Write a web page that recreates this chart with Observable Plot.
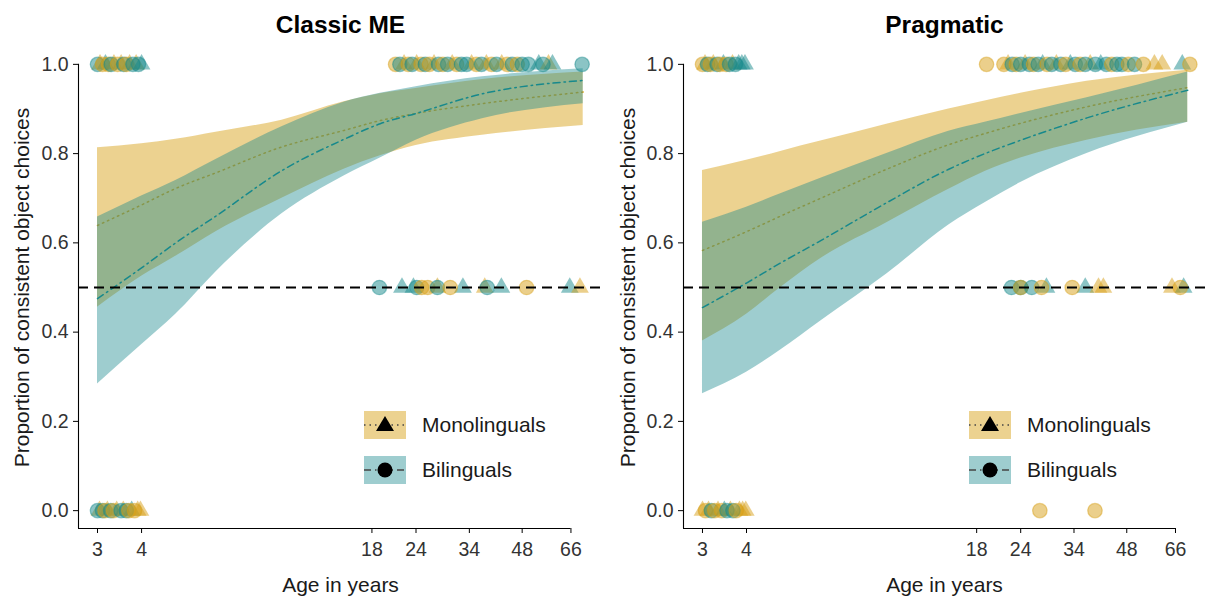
<!DOCTYPE html>
<html><head><meta charset="utf-8">
<script src="https://cdn.jsdelivr.net/npm/d3@7"></script>
<script src="https://cdn.jsdelivr.net/npm/@observablehq/plot@0.6"></script>
<style>
body{margin:0;background:#fff;}
#wrap{display:flex;width:1206px;height:599px;}
.panel{position:relative;width:603px;height:599px;}
.panel svg{display:block;}
</style></head><body><div id="wrap"></div>
<script>
// ---- data ----
const xTicks = [3, 4, 18, 24, 34, 48, 66];
const yTicks = [0, 0.2, 0.4, 0.6, 0.8, 1.0];
const chance = 0.5;
const groups = ["Monolinguals", "Bilinguals"];
const ageGrid = [3, 4, 5, 6.5, 10, 15, 19, 24, 37, 71.5];

const classicMonoFit  = [0.639, 0.685, 0.722, 0.757, 0.815, 0.852, 0.874, 0.890, 0.912, 0.938];
const classicMonoLow  = [0.456, 0.525, 0.570, 0.625, 0.700, 0.765, 0.795, 0.818, 0.841, 0.863];
const classicMonoHigh = [0.813, 0.822, 0.832, 0.848, 0.875, 0.916, 0.934, 0.946, 0.966, 0.983];
const classicBiFit    = [0.475, 0.544, 0.600, 0.660, 0.762, 0.832, 0.867, 0.890, 0.934, 0.964];
const classicBiLow    = [0.284, 0.372, 0.440, 0.535, 0.665, 0.750, 0.790, 0.830, 0.878, 0.912];
const classicBiHigh   = [0.658, 0.705, 0.740, 0.787, 0.860, 0.915, 0.935, 0.950, 0.972, 0.990];

const pragMonoFit  = [0.583, 0.625, 0.660, 0.700, 0.765, 0.820, 0.845, 0.868, 0.905, 0.948];
const pragMonoLow  = [0.380, 0.440, 0.500, 0.565, 0.645, 0.720, 0.760, 0.790, 0.830, 0.870];
const pragMonoHigh = [0.762, 0.785, 0.805, 0.828, 0.866, 0.900, 0.918, 0.935, 0.962, 0.987];
const pragBiFit    = [0.455, 0.510, 0.555, 0.605, 0.690, 0.765, 0.800, 0.830, 0.880, 0.942];
const pragBiLow    = [0.262, 0.310, 0.360, 0.425, 0.530, 0.640, 0.690, 0.735, 0.800, 0.870];
const pragBiHigh   = [0.646, 0.680, 0.710, 0.745, 0.800, 0.850, 0.870, 0.890, 0.925, 0.983];

// point kinds: first letter g = gold, t = teal; second letter c = circle, t = triangle
const classicAgesAt1 = [3.0,3.05,3.1,3.16,3.22,3.28,3.34,3.42,3.5,3.56,3.62,3.7,3.78,3.86,3.92,4.0,
  21.0,21.6,22.2,22.8,23.4,24.1,24.8,25.5,26.2,27.0,27.8,28.6,29.5,30.4,31.3,32.3,33.4,34.5,35.6,36.8,38.0,39.3,40.6,42.0,43.5,45.0,46.5,48.0,50.0,53.5,55.0,57.0,58.5,71.0];
const classicKindsAt1 = ["tc","gt","gc","tt","gc","tc","gt","gc","gt","tc","gc","gt","tc","gt","tc","tt",
  "gc","tc","gt","gc","tc","gt","gc","tc","gc","gt","tc","gc","tc","gt","gc","tc","tc","gt","gc","tc","gt","gc","tc","gt","gc","tc","gc","tc","tc","tt","tc","gt","tt","tc"];
const classicAgesAtHalf = [18.9,21.9,23.6,24.1,24.9,25.9,27.6,27.6,30.0,32.6,37.6,38.2,41.9,49.4,65.5,70.0];
const classicKindsAtHalf = ["tc","tt","tt","tc","gc","gc","gt","tc","gc","tt","gt","tc","tt","gc","tt","gt"];
const classicAgesAt0 = [3.0,3.04,3.1,3.15,3.2,3.27,3.33,3.4,3.5,3.55,3.62,3.68,3.75,3.82,3.9,3.97];
const classicKindsAt0 = ["tc","gt","tc","gc","gt","tc","gc","gt","tc","gt","tc","gc","tt","gc","gt","gt"];

const pragAgesAt1 = [3.0,3.05,3.1,3.16,3.22,3.3,3.36,3.44,3.5,3.58,3.65,3.72,3.8,3.88,3.96,
  19.2,21.5,22.1,22.7,23.3,24.0,24.7,25.4,26.1,26.9,27.7,28.5,29.4,30.3,31.2,32.2,33.2,34.3,35.4,36.6,37.8,39.1,40.5,42.0,43.5,45.0,46.5,48.5,50.5,53.5,57.5,60.5,69.0,72.5];
const pragKindsAt1 = ["gc","gt","tc","gc","gt","tc","gc","tt","gc","tc","gt","tc","tt","tt","tt",
  "gc","gc","gt","tc","gc","tc","gt","tc","gc","tc","tt","gc","tc","gt","tc","gc","tt","tc","gc","tc","gt","tc","tt","tc","gc","tc","tc","gc","tc","gc","gt","gt","tt","gc"];
const pragAgesAtHalf = [22.6,24.0,24.0,25.8,27.5,28.4,33.6,36.6,39.9,41.2,64.5,68.1,69.6];
const pragKindsAtHalf = ["tc","tc","gc","tc","gc","tt","gc","tt","gt","gt","gt","gc","tt"];
const pragAgesAt0 = [3.0,3.06,3.12,3.18,3.25,3.32,3.4,3.46,3.52,3.6,3.66,3.74,3.82,3.9,3.98,27.2,39.0];
const pragKindsAt0 = ["gt","gc","gt","tc","gc","gt","gc","tt","tc","gt","tc","gc","gt","gt","gt","gc","gc"];

// ---- styling ----
const GOLD = "#D8A017", TEAL = "#17898C";
const FONT = "'Liberation Sans', Arial, sans-serif";
const xLo = 2.65, yLo = -0.04, yHi = 1.04;

const panels = [
  {title: "Classic ME", ml: 78, xHi: 81.1, ylabDx: -56,
   mono: [classicMonoFit, classicMonoLow, classicMonoHigh], bi: [classicBiFit, classicBiLow, classicBiHigh],
   rows: [[1, classicAgesAt1, classicKindsAt1], [chance, classicAgesAtHalf, classicKindsAtHalf], [0, classicAgesAt0, classicKindsAt0]]},
  {title: "Pragmatic", ml: 80, xHi: 80.3, ylabDx: -55,
   mono: [pragMonoFit, pragMonoLow, pragMonoHigh], bi: [pragBiFit, pragBiLow, pragBiHigh],
   rows: [[1, pragAgesAt1, pragKindsAt1], [chance, pragAgesAtHalf, pragKindsAtHalf], [0, pragAgesAt0, pragKindsAt0]]}
];

function series(arrs) {
  return ageGrid.map((a, i) => ({age: a, fit: arrs[0][i], lo: arrs[1][i], hi: arrs[2][i]}));
}

function drawPanel(p) {
  const mono = series(p.mono), bi = series(p.bi);
  const pts = [];
  p.rows.forEach(([prop, ages, kinds]) => ages.forEach((a, i) => pts.push({age: a, prop, kind: kinds[i]})));
  const col = d => d.kind[0] === "g" ? GOLD : TEAL;
  const tris = pts.filter(d => d.kind[1] === "t"), circs = pts.filter(d => d.kind[1] === "c");
  const chart = Plot.plot({
    width: 603, height: 599,
    marginLeft: p.ml, marginRight: 1, marginTop: 46, marginBottom: 71,
    x: {type: "log", domain: [xLo, p.xHi], label: null},
    y: {domain: [yLo, yHi], label: null},
    color: {type: "identity"},
    style: {fontFamily: FONT, color: "#1a1a1a", background: "white", overflow: "visible"},
    marks: [
      Plot.areaY(mono, {x: "age", y1: "lo", y2: "hi", fill: GOLD, fillOpacity: 0.48, curve: "monotone-x"}),
      Plot.lineY(mono, {x: "age", y: "fit", stroke: GOLD, strokeWidth: 1.5, strokeDasharray: "1.5,4", curve: "monotone-x"}),
      Plot.areaY(bi, {x: "age", y1: "lo", y2: "hi", fill: TEAL, fillOpacity: 0.42, curve: "monotone-x"}),
      Plot.lineY(bi, {x: "age", y: "fit", stroke: TEAL, strokeWidth: 1.5, strokeDasharray: "7,4,1.5,4", curve: "monotone-x"}),
      Plot.dot(tris, {x: "age", y: "prop", symbol: "triangle", r: 6.6, fill: col, fillOpacity: 0.5}),
      Plot.dot(circs, {x: "age", y: "prop", symbol: "circle", r: 7.2, fill: col, fillOpacity: 0.5, stroke: col, strokeOpacity: 0.45, strokeWidth: 1.3}),
      Plot.ruleY([chance], {stroke: "#000", strokeWidth: 2.2, strokeDasharray: "10,6"}),
      Plot.ruleX([xLo], {y1: yLo, y2: yTicks[yTicks.length - 1], stroke: "#000", strokeWidth: 1.1}),
      Plot.ruleY([yLo], {x1: xLo, x2: xTicks[xTicks.length - 1], stroke: "#000", strokeWidth: 1.1}),
      Plot.axisY(yTicks, {tickSize: 5, tickPadding: 5, fontSize: 19.5, tickFormat: d => d.toFixed(1), label: null, fill: "#333", stroke: "#000"}),
      Plot.axisX(xTicks, {tickSize: 5, label: null, fill: "none", stroke: "#000"}),
      Plot.text(xTicks, {x: d => d, text: d => String(d), frameAnchor: "bottom", lineAnchor: "middle", dy: 21, fontSize: 19.5, fill: "#333"}),
      Plot.text([p.title], {text: d => d, frameAnchor: "top", lineAnchor: "middle", dy: -21, fontSize: 24.5, fontWeight: "bold", fill: "#000"}),
      Plot.text(["Age in years"], {text: d => d, frameAnchor: "bottom", lineAnchor: "middle", dy: 57, fontSize: 21, fill: "#1a1a1a"}),
      Plot.text(["Proportion of consistent object choices"], {text: d => d, frameAnchor: "left", textAnchor: "middle", dx: p.ylabDx, rotate: -90, fontSize: 21, fill: "#1a1a1a"})
    ]
  });
  const div = document.createElement("div");
  div.className = "panel";
  div.appendChild(chart);
  // legend overlay
  const lx = 364 + (p.ml - 78), tx = 422 + (p.ml - 78);
  const svg = d3.create("svg").attr("width", 603).attr("height", 599)
    .style("position", "absolute").style("left", "0px").style("top", "0px")
    .style("font-family", FONT);
  const keys = [
    {label: groups[0], y: 411, fill: GOLD, op: 0.48, dash: "1.5,4", shape: "tri"},
    {label: groups[1], y: 456, fill: TEAL, op: 0.42, dash: "7,4,1.5,4", shape: "circ"}
  ];
  keys.forEach(k => {
    const g = svg.append("g");
    g.append("rect").attr("x", lx).attr("y", k.y).attr("width", 42).attr("height", 28)
      .attr("fill", k.fill).attr("fill-opacity", k.op);
    const cy = k.y + 14;
    g.append("line").attr("x1", lx).attr("x2", lx + 42).attr("y1", cy).attr("y2", cy)
      .attr("stroke", "#444").attr("stroke-width", 1.3).attr("stroke-dasharray", k.dash);
    const cx = lx + 21;
    if (k.shape === "tri") {
      g.append("path").attr("d", `M${cx},${cy - 9}L${cx + 9},${cy + 6}L${cx - 9},${cy + 6}Z`).attr("fill", "#000");
    } else {
      g.append("circle").attr("cx", cx).attr("cy", cy).attr("r", 7.5).attr("fill", "#000");
    }
    g.append("text").attr("x", tx).attr("y", cy).attr("dy", "0.35em").attr("font-size", 21)
      .attr("fill", "#1a1a1a").text(k.label);
  });
  div.appendChild(svg.node());
  return div;
}

const wrap = document.getElementById("wrap");
panels.forEach(p => wrap.appendChild(drawPanel(p)));
</script></body></html>
